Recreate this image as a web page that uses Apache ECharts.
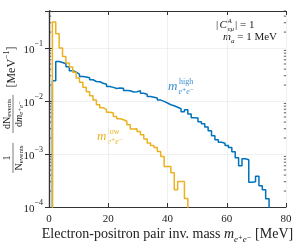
<!DOCTYPE html>
<html><head><meta charset="utf-8">
<script src="https://cdn.jsdelivr.net/npm/echarts@6/dist/echarts.min.js"></script>
<style>html,body{margin:0;padding:0;background:#fff}#c{width:296px;height:252px}</style>
</head><body><div id="c"></div>
<script>
// histogram: 70 bins over 0..80 MeV, first filled bin index 1
const binWidth = 80 / 70;
const firstBin = 1;
const highValues = [0.0242,0.0559,0.0535,0.0506,0.0444,0.0373,0.0352,0.0323,0.0291,0.0284,0.0275,0.0252,0.0234,0.0231,0.0217,0.0207,0.0188,0.0181,0.0172,0.0176,0.0175,0.0158,0.0156,0.0148,0.0150,0.0157,0.0140,0.0134,0.0122,0.0118,0.0114,0.0104,0.00983,0.00917,0.00851,0.00815,0.00764,0.00716,0.00628,0.00686,0.00569,0.00484,0.00478,0.00407,0.00373,0.00323,0.00275,0.00221,0.00186,0.00167,0.00160,0.00144,0.00132,0.00110,0.000851,0.000601,0.000815,0.000780,0.000294,0.000300,0.000381,0.000252,0.000212,0.000143];
const lowValues = [0.310,0.186,0.100,0.0695,0.0521,0.0438,0.0349,0.0272,0.0226,0.0182,0.0150,0.0126,0.0104,0.00851,0.00748,0.00686,0.00615,0.00594,0.00512,0.00463,0.00444,0.00416,0.00357,0.00296,0.00300,0.00267,0.00231,0.00192,0.00161,0.00144,0.00132,0.00112,0.000901,0.000583,0.000583,0.000444,0.000212,0.000304,0.000304,0.000144];
const xTicks = [0, 20, 40, 60, 80];
const yTickExponents = [-4, -3, -2, -1];
const yMin = 1e-4, yMax = 0.5;
const minorTickValues = [];
[1e-4, 1e-3, 1e-2, 1e-1].forEach(d => { for (let k = 2; k <= 9; k++) { if (d * k <= yMax) minorTickValues.push(d * k); } });

const SERIF = "'Liberation Serif','DejaVu Serif',serif";
const AX = '#333';
const BLUE = '#0072BD', ORANGE = '#EDB120';

function stepData(vals) {
  const floor = 1e-7;
  const pts = [[firstBin * binWidth, floor]];
  vals.forEach((v, i) => pts.push([(firstBin + i) * binWidth, v]));
  const end = (firstBin + vals.length) * binWidth;
  pts.push([end, vals[vals.length - 1]]);
  pts.push([end, floor]);
  return pts;
}

const chart = echarts.init(document.getElementById('c'), null, {renderer: 'canvas'});
const supRich = {
  b: {fontFamily: SERIF, fontSize: 11, color: '#222', lineHeight: 16, verticalAlign: 'bottom'},
  s: {fontFamily: SERIF, fontSize: 8, color: '#222', lineHeight: 9, verticalAlign: 'top'}
};
const xBase = {
  type: 'value', min: 0, max: 80, interval: 20,
  axisLine: {show: true, lineStyle: {color: AX, width: 1.2}},
  axisTick: {show: true, inside: true, length: 4, lineStyle: {color: AX, width: 1}},
  splitLine: {show: false}
};
const yBase = {
  type: 'log', logBase: 10, min: yMin, max: yMax,
  axisLine: {show: true, lineStyle: {color: AX, width: 1.2}},
  axisTick: {show: true, inside: true, length: 4, lineStyle: {color: AX, width: 1}},
  splitLine: {show: false}
};
function expOf(v) { const l = Math.log10(v); const n = Math.round(l); return Math.abs(l - n) < 1e-6 && yTickExponents.includes(n) ? n : null; }

chart.setOption({
  animation: false,
  backgroundColor: '#fff',
  grid: {left: 49, right: 10, top: 11, bottom: 45, containLabel: false},
  xAxis: [
    Object.assign({}, xBase, {
      position: 'bottom',
      axisLabel: {show: true, margin: 7, fontFamily: SERIF, fontSize: 11, color: '#222',
        formatter: v => xTicks.includes(v) ? String(v) : ''},
      splitLine: {show: true, lineStyle: {color: '#ececec', width: 0.8}}
    }),
    Object.assign({}, xBase, {position: 'top', axisLabel: {show: false}})
  ],
  yAxis: [
    Object.assign({}, yBase, {
      position: 'left',
      axisLabel: {show: true, margin: 6, rich: supRich, showMaxLabel: false,
        formatter: v => { const n = expOf(v); return n === null ? '' : '{b|10}{s|\u2212' + Math.abs(n) + '}'; }},
      splitLine: {show: true, lineStyle: {color: '#ececec', width: 0.8}}
    }),
    Object.assign({}, yBase, {position: 'right', axisLabel: {show: false}})
  ],
  series: [
    {type: 'line', name: 'high', step: 'end', data: stepData(highValues), symbol: 'none',
      clip: true, lineStyle: {color: BLUE, width: 1.5}, z: 3},
    {type: 'line', name: 'low', step: 'end', data: stepData(lowValues), symbol: 'none',
      clip: true, lineStyle: {color: ORANGE, width: 1.5}, z: 4},
    {type: 'custom', name: 'minorTicks', data: minorTickValues.map(v => [0, v]), silent: true, z: 5,
      renderItem: function (params, api) {
        const cs = params.coordSys;
        const y = api.coord([0, api.value(1)])[1];
        return {type: 'group', children: [
          {type: 'line', shape: {x1: cs.x, y1: y, x2: cs.x + 2.2, y2: y}, style: {stroke: AX, lineWidth: 0.8}},
          {type: 'line', shape: {x1: cs.x + cs.width - 2.2, y1: y, x2: cs.x + cs.width, y2: y}, style: {stroke: AX, lineWidth: 0.8}}
        ]};
      }}
  ],
  graphic: [
    // x-axis title
    {type: 'text', x: 167.5, y: 233, style: {
      text: '{t|Electron-positron pair inv. mass }{m|m}{sub|e\u207Ae\u207B}{t| [MeV]}',
      align: 'center', verticalAlign: 'middle',
      rich: {
        t: {fontFamily: SERIF, fontSize: 14, fill: '#222', lineHeight: 17, verticalAlign: 'bottom'},
        m: {fontFamily: SERIF, fontStyle: 'italic', fontSize: 14, fill: '#222', lineHeight: 17, verticalAlign: 'bottom'},
        sub: {fontFamily: SERIF, fontStyle: 'italic', fontSize: 9, fill: '#222', lineHeight: 9, verticalAlign: 'bottom', padding: [0, 0, -3, 0]}
      }}},
    // annotation
    {type: 'text', x: 216, y: 25, style: {text: '|', font: "11px 'Liberation Serif', serif", fill: '#222', align: 'left', verticalAlign: 'middle'}},
    {type: 'text', x: 219.5, y: 25, style: {text: 'C', font: "italic 11px 'Liberation Serif', serif", fill: '#222', align: 'left', verticalAlign: 'middle'}},
    {type: 'text', x: 227.5, y: 21, style: {text: 'A', font: "italic 7px 'Liberation Serif', serif", fill: '#222', align: 'left', verticalAlign: 'middle'}},
    {type: 'text', x: 227.5, y: 29, style: {text: 'e\u03BC', font: "italic 7px 'Liberation Serif', serif", fill: '#222', align: 'left', verticalAlign: 'middle'}},
    {type: 'text', x: 235, y: 25, style: {text: '| = 1', font: "11px 'Liberation Serif', serif", fill: '#222', align: 'left', verticalAlign: 'middle'}},
    {type: 'text', x: 223, y: 37.5, style: {
      text: '{i|m}{sub|a}{t| = 1 MeV}', align: 'left', verticalAlign: 'middle',
      rich: {
        t: {fontFamily: SERIF, fontSize: 11, fill: '#222', lineHeight: 14},
        i: {fontFamily: SERIF, fontStyle: 'italic', fontSize: 11, fill: '#222', lineHeight: 14},
        sub: {fontFamily: SERIF, fontStyle: 'italic', fontSize: 7, fill: '#222', lineHeight: 8, verticalAlign: 'bottom'}
      }}},
    // series labels
    {type: 'text', x: 168, y: 87, style: {text: 'm', font: "italic 13px 'Liberation Serif', serif", fill: '#3a8fd0', align: 'left', verticalAlign: 'middle'}},
    {type: 'text', x: 179, y: 82, style: {text: 'high', font: "8px 'Liberation Serif', serif", fill: '#3a8fd0', align: 'left', verticalAlign: 'middle'}},
    {type: 'text', x: 178.5, y: 91.5, style: {text: 'e\u207Ae\u207B', font: "italic 8px 'Liberation Serif','DejaVu Serif', serif", fill: '#3a8fd0', align: 'left', verticalAlign: 'middle'}},
    {type: 'text', x: 97, y: 137, style: {text: 'm', font: "italic 13px 'Liberation Serif', serif", fill: '#EDB120', align: 'left', verticalAlign: 'middle'}},
    {type: 'text', x: 107.5, y: 131.5, style: {text: 'low', font: "8px 'Liberation Serif', serif", fill: '#EDB120', align: 'left', verticalAlign: 'middle'}},
    {type: 'text', x: 107.5, y: 141.5, style: {text: 'e\u207Ae\u207B', font: "italic 8px 'Liberation Serif','DejaVu Serif', serif", fill: '#EDB120', align: 'left', verticalAlign: 'middle'}},
    // y-axis title (rotated)
    {type: 'group', x: 13, y: 177, rotation: Math.PI / 2, children: [
      {type: 'text', x: 19, y: -6, style: {text: '1', font: "10px 'Liberation Serif', serif", fill: '#222', align: 'center', verticalAlign: 'middle'}},
      {type: 'line', shape: {x1: 4, y1: 0, x2: 34, y2: 0}, style: {stroke: '#222', lineWidth: 0.6}},
      {type: 'text', x: 19, y: 6, style: {text: '{a|N}{s|events}', align: 'center', verticalAlign: 'middle',
        rich: {a: {fontFamily: SERIF, fontSize: 10, fill: '#222', lineHeight: 12}, s: {fontFamily: SERIF, fontSize: 7, fill: '#222', lineHeight: 8, verticalAlign: 'bottom'}}}},
      {type: 'text', x: 63, y: -6, style: {text: '{a|dN}{s|events}', align: 'center', verticalAlign: 'middle',
        rich: {a: {fontFamily: SERIF, fontSize: 10, fill: '#222', lineHeight: 12}, s: {fontFamily: SERIF, fontSize: 7, fill: '#222', lineHeight: 8, verticalAlign: 'bottom'}}}},
      {type: 'line', shape: {x1: 44, y1: 0, x2: 82, y2: 0}, style: {stroke: '#222', lineWidth: 0.6}},
      {type: 'text', x: 63, y: 6, style: {text: '{a|d}{i|m}{s|e\u207Ae\u207B}', align: 'center', verticalAlign: 'middle',
        rich: {a: {fontFamily: SERIF, fontSize: 10, fill: '#222', lineHeight: 12}, i: {fontFamily: SERIF, fontStyle: 'italic', fontSize: 10, fill: '#222', lineHeight: 12}, s: {fontFamily: SERIF, fontStyle: 'italic', fontSize: 7, fill: '#222', lineHeight: 8, verticalAlign: 'bottom'}}}},
      {type: 'text', x: 110, y: -3, style: {text: '{t|[MeV}{s|\u22121}{t|]}', align: 'center', verticalAlign: 'middle',
        rich: {t: {fontFamily: SERIF, fontSize: 12, fill: '#222', lineHeight: 15, verticalAlign: 'bottom'}, s: {fontFamily: SERIF, fontSize: 8, fill: '#222', lineHeight: 9, verticalAlign: 'top'}}}}
    ]}
  ]
});
</script></body></html>
